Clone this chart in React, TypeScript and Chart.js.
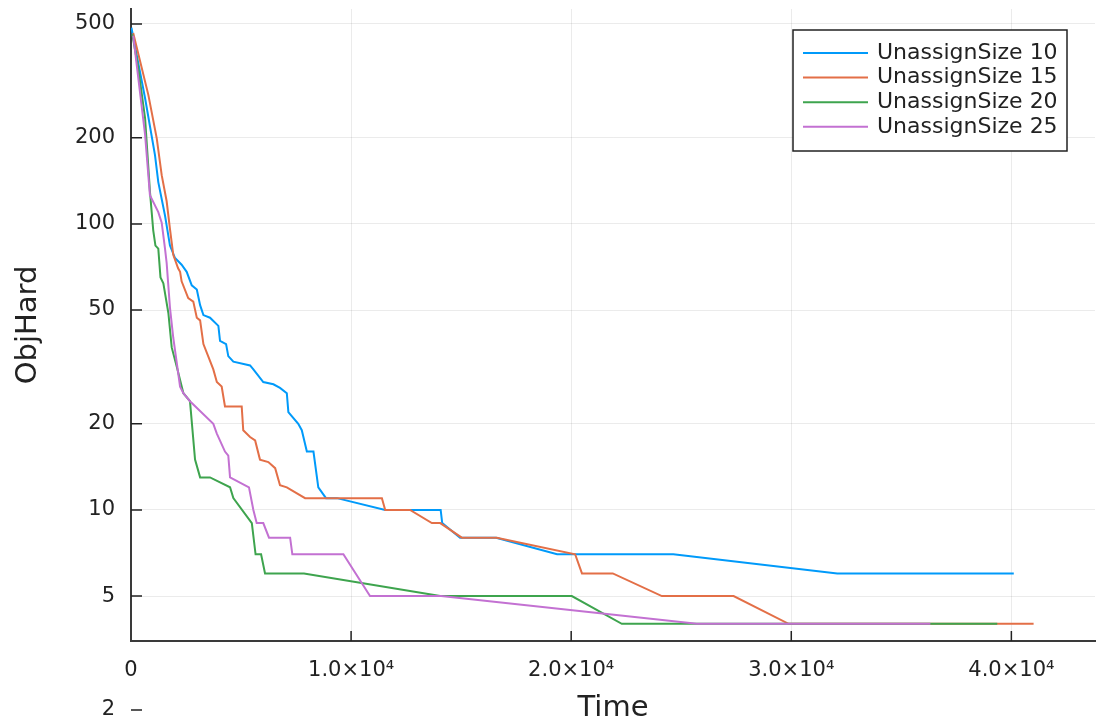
import { useEffect, useRef } from 'react';
import { Chart, registerables } from 'chart.js';

Chart.register(...registerables);

const seriesNames = ['UnassignSize 10', 'UnassignSize 15', 'UnassignSize 20', 'UnassignSize 25'];
const seriesColors = ['#009AFA', '#E36F47', '#3EA44E', '#C371D2'];

const blueTime = [20, 640, 1090, 1240, 1545, 1770, 2000, 2300, 2530, 2760, 2990, 3140, 3290, 3590, 3970, 4045, 4320, 4420, 4650, 5410, 5560, 6010, 6470, 6770, 7080, 7150, 7600, 7760, 7990, 8290, 8510, 8860, 9360, 11550, 14070, 14140, 14950, 16590, 19360, 24640, 32090, 40110];
const blueObj = [485, 275, 174, 140, 107, 84, 76, 72, 68, 61, 59, 52, 48, 47, 44, 39, 38, 34.5, 33, 32, 31, 28, 27.5, 26.7, 25.6, 22, 20, 19, 16, 16, 12, 11, 11, 10, 10, 9, 8, 8, 7, 7, 6, 6];

const orangeTime = [100, 790, 1170, 1395, 1620, 1770, 1920, 2140, 2230, 2300, 2600, 2830, 2990, 3140, 3290, 3510, 3740, 3900, 4120, 4270, 5030, 5100, 5410, 5640, 5860, 6240, 6550, 6770, 7080, 7910, 11400, 11550, 12680, 13670, 14050, 15030, 16620, 20180, 20490, 21890, 24120, 27380, 29880, 41010];
const orangeObj = [465, 282, 199, 148, 120, 96, 78, 70, 68, 63, 55, 53.5, 47, 46, 38, 34.4, 31, 28, 27, 23, 23, 19, 18, 17.5, 15, 14.7, 14, 12.2, 12, 11, 11, 10, 10, 9, 9, 8, 8, 7, 6, 6, 5, 5, 4, 4];

const greenTime = [60, 330, 640, 860, 1010, 1110, 1240, 1340, 1470, 1700, 1850, 2080, 2380, 2680, 2910, 3140, 3590, 4500, 4650, 5490, 5660, 5910, 6090, 7860, 14050, 20030, 22300, 39360];
const greenObj = [460, 350, 234, 130, 95, 84, 82, 65, 62, 48.7, 37, 31.7, 25.6, 24, 15, 13, 13, 12, 11, 9, 7, 7, 6, 6, 5, 5, 4, 4];

const purpleTime = [100, 640, 860, 1240, 1395, 1545, 1620, 1770, 1920, 2230, 2380, 2680, 3740, 3900, 4270, 4420, 4500, 5360, 5560, 5710, 6010, 6270, 7230, 7330, 9650, 10860, 14090, 25710, 36320];
const purpleObj = [455, 205, 126, 110, 101, 82, 73, 51, 40, 27, 25.6, 24, 20, 18.5, 16, 15.5, 13, 12, 10, 9, 9, 8, 8, 7, 7, 5, 5, 4, 4];

const xTicks = [0, 10000, 20000, 30000, 40000];
const yTicks = [5, 10, 20, 50, 100, 200, 500];
const yOutsideTicks = [2];
const xRange = [0, 43800];
const yRange = [3.483, 564];

const FONT = "'DejaVu Sans', sans-serif";
const TEXT = '#222222';
const AXIS = '#3a3a3a';
const GRID = 'rgba(0,0,0,0.08)';

const fmtX = (v: number) => (v === 0 ? '0' : `${(v / 1e4).toFixed(1)}×10⁴`);

const tickMarks = {
  id: 'tickMarks',
  afterDraw(chart: any) {
    const { ctx, chartArea, scales } = chart;
    const xs = scales.x;
    const ys = scales.y;
    ctx.save();
    ctx.strokeStyle = TEXT;
    ctx.lineWidth = 1.5;
    ctx.beginPath();
    for (const v of [...yTicks, ...yOutsideTicks]) {
      const py = ys.getPixelForValue(v);
      ctx.moveTo(chartArea.left, py);
      ctx.lineTo(chartArea.left + 11, py);
    }
    for (const v of xTicks) {
      if (v === 0) continue;
      const px = xs.getPixelForValue(v);
      ctx.moveTo(px, chartArea.bottom);
      ctx.lineTo(px, chartArea.bottom - 10);
    }
    ctx.stroke();
    ctx.fillStyle = TEXT;
    ctx.font = `21px ${FONT}`;
    ctx.textAlign = 'right';
    ctx.textBaseline = 'middle';
    for (const v of yOutsideTicks) {
      ctx.fillText(String(v), chartArea.left - 16, ys.getPixelForValue(v));
    }
    ctx.restore();
  },
};

const legendBox = {
  id: 'legendBox',
  afterDraw(chart: any) {
    const { ctx, chartArea } = chart;
    const w = 274;
    const h = 121;
    const left = chartArea.right - 28 - w;
    const top = chartArea.top + 21;
    ctx.save();
    ctx.fillStyle = '#ffffff';
    ctx.fillRect(left, top, w, h);
    ctx.strokeStyle = TEXT;
    ctx.lineWidth = 1.5;
    ctx.strokeRect(left, top, w, h);
    ctx.font = `22px ${FONT}`;
    ctx.textAlign = 'left';
    ctx.textBaseline = 'middle';
    chart.data.datasets.forEach((ds: any, i: number) => {
      const y = top + 23 + i * 24.6;
      ctx.strokeStyle = ds.borderColor;
      ctx.lineWidth = 2;
      ctx.beginPath();
      ctx.moveTo(left + 10, y);
      ctx.lineTo(left + 75, y);
      ctx.stroke();
      ctx.fillStyle = TEXT;
      ctx.fillText(ds.label, left + 84, y);
    });
    ctx.restore();
  },
};

export default function App() {
  const ref = useRef<HTMLCanvasElement>(null);

  useEffect(() => {
    const times = [blueTime, orangeTime, greenTime, purpleTime];
    const objs = [blueObj, orangeObj, greenObj, purpleObj];
    Chart.defaults.font.family = FONT;
    const chart = new Chart(ref.current as HTMLCanvasElement, {
      type: 'line',
      data: {
        datasets: seriesNames.map((name, i) => ({
          label: name,
          data: times[i].map((t, j) => ({ x: t, y: objs[i][j] })),
          borderColor: seriesColors[i],
          backgroundColor: seriesColors[i],
          borderWidth: 2,
          pointRadius: 0,
          tension: 0,
          fill: false,
          order: seriesNames.length - i,
        })),
      },
      options: {
        animation: false,
        responsive: true,
        maintainAspectRatio: false,
        layout: { padding: { top: 9, right: 2, left: 0, bottom: 0 } },
        plugins: { legend: { display: false }, tooltip: { enabled: false } },
        scales: {
          x: {
            type: 'linear',
            bounds: 'data',
            min: xRange[0],
            max: xRange[1],
            afterBuildTicks: (s: any) => {
              s.ticks = xTicks.map((v) => ({ value: v }));
            },
            afterFit: (s: any) => {
              s.height = 86;
              s.paddingLeft = 0;
              s.paddingRight = 0;
            },
            grid: { color: GRID, drawTicks: false, lineWidth: 1 },
            border: { color: AXIS, width: 2 },
            ticks: {
              padding: 17,
              font: { size: 21 },
              color: TEXT,
              maxRotation: 0,
              autoSkip: false,
              callback: (v: any) => fmtX(Number(v)),
            },
            title: { display: true, text: 'Time', font: { size: 29 }, color: TEXT, padding: { top: 0, bottom: 1 } },
          },
          y: {
            type: 'logarithmic',
            bounds: 'data',
            min: yRange[0],
            max: yRange[1],
            afterBuildTicks: (s: any) => {
              s.ticks = yTicks.map((v) => ({ value: v }));
            },
            afterFit: (s: any) => {
              s.width = 131;
              s.paddingTop = 0;
              s.paddingBottom = 0;
            },
            grid: { color: GRID, drawTicks: false, lineWidth: 1 },
            border: { color: AXIS, width: 2 },
            ticks: {
              padding: 16,
              font: { size: 21 },
              color: TEXT,
              autoSkip: false,
              callback: (v: any) => String(v),
            },
            title: { display: true, text: 'ObjHard', font: { size: 29 }, color: TEXT, padding: { top: 11, bottom: 0 } },
          },
        },
      },
      plugins: [tickMarks, legendBox],
    });
    return () => chart.destroy();
  }, []);

  return (
    <div style={{ position: 'absolute', left: 0, top: 0, width: 1097, height: 727 }}>
      <canvas ref={ref} />
    </div>
  );
}
